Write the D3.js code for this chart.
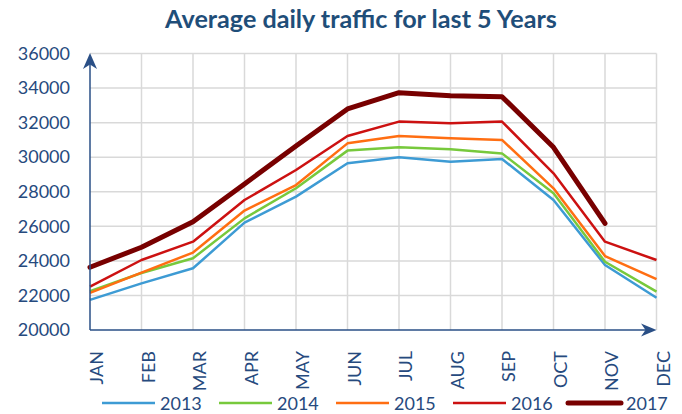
<!DOCTYPE html>
<html>
<head>
<meta charset="utf-8">
<script src="https://cdn.jsdelivr.net/npm/d3@7/dist/d3.min.js"></script>
<style>
  html, body { margin: 0; padding: 0; background: #fff; }
  svg { display: block; }
  text { font-family: Lato, "Open Sans", sans-serif; }
</style>
</head>
<body>
<svg id="chart" width="682" height="414"></svg>
<script>
const months = ["JAN","FEB","MAR","APR","MAY","JUN","JUL","AUG","SEP","OCT","NOV","DEC"];
const yTicks = [20000,22000,24000,26000,28000,30000,32000,34000,36000];
const seriesNames = ["2013","2014","2015","2016","2017"];
const s2013 = [21740,22700,23570,26210,27720,29650,29990,29740,29900,27520,23760,21870];
const s2014 = [22250,23300,24150,26460,28200,30380,30570,30460,30220,27910,23950,22220];
const s2015 = [22150,23320,24480,26910,28390,30800,31230,31090,31000,28200,24280,22950];
const s2016 = [22510,24050,25110,27520,29260,31230,32060,31960,32060,29070,25110,24050];
const s2017 = [23630,24790,26270,28450,30650,32790,33730,33560,33500,30570,26170,null];
const colors = ["#3d9bd4","#77c93c","#ff6e12","#cc1111","#780000"];
const widths = [2.5,2.5,2.5,2.5,5];

const allSeries = [s2013,s2014,s2015,s2016,s2017];
const svg = d3.select("#chart");
const textColor = "#264a7e";
const axisColor = "#2a4f86";

const x = d3.scalePoint().domain(months).range([90, 656.5]);
const y = d3.scaleLinear().domain([20000, 36000]).range([330, 53.5]);

// title
const title = svg.append("text")
  .attr("x", 361).attr("y", 28)
  .attr("text-anchor", "middle")
  .attr("font-weight", "bold")
  .attr("font-size", 20)
  .attr("fill", "#1f4e79")
  .text("Average daily traffic for last 5 Years");
const tw = title.node().getComputedTextLength();
if (tw > 0) title.attr("font-size", 20 * 392 / tw);

// gridlines
const grid = svg.append("g");
grid.selectAll("line.h").data(yTicks.slice(1)).join("line")
  .attr("x1", 90).attr("x2", x("DEC"))
  .attr("y1", d => y(d)).attr("y2", d => y(d))
  .attr("stroke", "#d9d9d9").attr("stroke-width", 1.5);
grid.selectAll("line.v").data(months.slice(1)).join("line")
  .attr("x1", d => x(d)).attr("x2", d => x(d))
  .attr("y1", y(36000)).attr("y2", y(20000))
  .attr("stroke", "#d9d9d9").attr("stroke-width", 1.5);

// y axis labels
const yAxis = d3.axisLeft(y).tickValues(yTicks).tickSize(0).tickPadding(20).tickFormat(d3.format("d"));
const gy = svg.append("g").attr("transform", "translate(90,0)").call(yAxis);
gy.select(".domain").remove();
gy.selectAll("text").attr("font-size", 18).attr("fill", textColor)
  .attr("font-family", "Lato, sans-serif");

// x axis labels
const xAxis = d3.axisBottom(x).tickSize(0);
const gx = svg.append("g").attr("transform", "translate(0,330)").call(xAxis);
gx.select(".domain").remove();
gx.selectAll("text")
  .attr("font-size", 18).attr("fill", textColor)
  .attr("font-family", "Lato, sans-serif")
  .attr("text-anchor", "end")
  .attr("transform", "translate(0,21) rotate(-90)")
  .attr("x", 0).attr("y", 0).attr("dy", "0.72em");

// lines
const line = d3.line().defined(d => d.v != null).x(d => x(d.m)).y(d => y(d.v));
allSeries.forEach((s, i) => {
  svg.append("path")
    .datum(s.map((v, j) => ({m: months[j], v})))
    .attr("fill", "none")
    .attr("stroke", colors[i])
    .attr("stroke-width", widths[i])
    .attr("stroke-linejoin", "round")
    .attr("stroke-linecap", i === 4 ? "round" : "butt")
    .attr("d", line);
});

// axes lines with arrows
svg.append("line").attr("x1", 90).attr("y1", 330).attr("x2", 90).attr("y2", 58)
  .attr("stroke", axisColor).attr("stroke-width", 1.5);
svg.append("path").attr("d", "M90,53 L97,69 L90,64.5 L83,69 Z").attr("fill", axisColor);
svg.append("line").attr("x1", 90).attr("y1", 330).attr("x2", 651).attr("y2", 330)
  .attr("stroke", axisColor).attr("stroke-width", 1.5);
svg.append("path").attr("d", "M656.5,330 L641,323.5 L645.5,330 L641,336.5 Z").attr("fill", axisColor);

// legend
const legendX = [102, 219, 336, 453, 568];
const lg = svg.append("g");
seriesNames.forEach((name, i) => {
  lg.append("line")
    .attr("x1", legendX[i]).attr("x2", legendX[i] + 53)
    .attr("y1", 403).attr("y2", 403)
    .attr("stroke", colors[i]).attr("stroke-width", widths[i])
    .attr("stroke-linecap", i === 4 ? "round" : "butt");
  lg.append("text")
    .attr("x", legendX[i] + 58).attr("y", 409.5)
    .attr("font-size", 18).attr("fill", textColor)
    .text(name);
});
</script>
</body>
</html>
